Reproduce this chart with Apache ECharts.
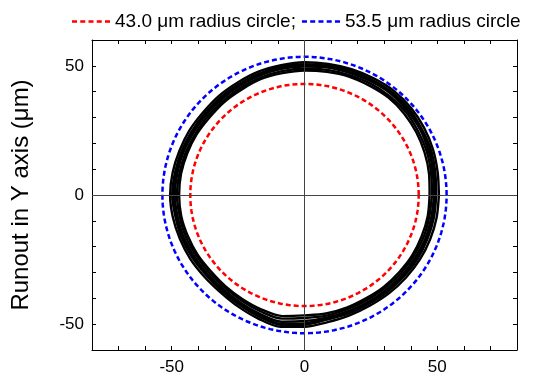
<!DOCTYPE html>
<html>
<head>
<meta charset="utf-8">
<script src="https://cdn.jsdelivr.net/npm/echarts@6/dist/echarts.min.js"></script>
<style>
html,body{margin:0;padding:0;background:#fff;}
#chart{width:552px;height:376px;}
</style>
</head>
<body>
<div id="chart"></div>
<script>
var angles = [0,10,20,30,40,50,60,70,80,90,100,110,120,130,140,150,160,170,
              180,190,200,210,220,230,240,250,260,270,280,290,300,310,320,330,340,350];

// measured radius (um) for each revolution
var rev1 = [50.6,50.9,51.5,52.0,52.4,52.5,52.1,51.8,51.5,51.4,51.0,50.8,50.3,50.1,49.8,50.0,50.1,50.4,
            50.6,50.3,49.9,49.6,49.2,49.2,49.9,50.9,51.8,51.0,50.0,49.6,49.4,49.6,49.8,50.1,50.3,50.5];
var rev2 = [49.6,50.0,50.7,51.0,51.6,51.7,51.3,51.2,50.7,50.6,50.3,50.0,49.5,49.3,49.0,49.1,49.3,49.5,
            49.8,49.3,49.1,48.7,48.3,48.5,49.1,50.1,51.0,50.2,49.0,48.8,48.6,48.8,48.9,49.2,49.3,49.5];
var rev3 = [48.8,49.4,49.7,50.4,50.6,50.9,50.6,50.2,50.1,49.7,49.6,49.2,48.8,48.4,48.3,48.2,48.5,48.6,
            48.8,48.5,48.3,47.8,47.6,47.5,48.2,49.0,49.8,48.8,48.2,47.8,47.8,47.8,48.1,48.2,48.5,48.5];
var rev4 = [48.0,48.4,49.0,49.4,49.9,49.9,49.8,49.4,49.2,48.9,48.7,48.4,48.0,47.6,47.5,47.4,47.7,47.8,
            48.0,47.7,47.5,47.0,46.8,46.7,47.3,48.0,48.6,47.6,47.4,47.0,47.0,47.0,47.3,47.4,47.7,47.7];
var rev5 = [47.1,47.6,48.1,48.6,49.0,49.2,48.9,48.8,48.4,48.2,47.9,47.8,47.2,47.0,46.7,46.9,47.0,47.2,
            47.2,47.1,46.7,46.4,46.0,46.2,46.6,47.2,47.6,46.6,46.6,46.4,46.2,46.4,46.5,46.8,46.9,47.1];
var rev6 = [49.2,49.0,50.2,50.5,51.0,51.2,51.2,50.5,50.6,50.2,49.9,49.5,49.2,48.8,48.9,48.6,48.9,49.1,
            49.3,48.9,48.8,48.2,48.0,47.9,48.6,49.6,50.6,49.7,48.6,48.3,48.2,48.2,48.6,48.6,49.0,48.9];

var innerRadius = 43.0;
var outerRadius = 53.5;
var tickLabels = [-50, 0, 50];

var chart = echarts.init(document.getElementById("chart"));

function toXY(radii){
    var pts = [];
    for (var i = 0; i < angles.length; i++) {
        var a = angles[i] * Math.PI / 180;
        pts.push([radii[i] * Math.cos(a), radii[i] * Math.sin(a)]);
    }
    pts.push(pts[0]);
    return pts;
}

function circle(r){
    var pts = [];
    for (var d = 0; d <= 360; d += 2) {
        var a = d * Math.PI / 180;
        pts.push([r * Math.cos(a), r * Math.sin(a)]);
    }
    return pts;
}

var font = "Liberation Sans";
function fmt(v){ return tickLabels.indexOf(v) >= 0 ? String(v) : ""; }

// dashed sample for the legend
var dashIcon = 'path://M0,0h5v2.5h-5z M8.25,0h5v2.5h-5z M16.5,0h5v2.5h-5z M24.75,0h5v2.5h-5z M33,0h5v2.5h-5z';

var revSeries = [rev1, rev2, rev3, rev4, rev5, rev6].map(function(r, i){
    return {
        type: 'line', name: 'rev' + (i + 1), data: toXY(r),
        showSymbol: false, symbol: 'none', smooth: 0.3, smoothMonotone: 'none',
        lineStyle: {color: '#000', width: 2.4}, silent: true, z: 2
    };
});

var innerName = innerRadius.toFixed(1) + ' μm radius circle;';
var outerName = outerRadius.toFixed(1) + ' μm radius circle';

var option = {
    animation: false,
    legend: {
        data: [
            {name: innerName, icon: dashIcon, itemStyle: {color: '#ff0000', borderWidth: 0}},
            {name: outerName, icon: dashIcon, itemStyle: {color: '#0000ff', borderWidth: 0}}
        ],
        left: 72, top: 12, itemWidth: 38, itemHeight: 3, itemGap: 6, padding: 0,
        textStyle: {fontFamily: font, fontSize: 19, color: '#000'}
    },
    grid: {left: 92, right: 35, top: 40, bottom: 24},
    xAxis: [{
        type: 'value', min: -80, max: 80, interval: 10,
        axisLine: {onZero: false, lineStyle: {color: '#000', width: 1}},
        axisTick: {inside: true, length: 4, lineStyle: {color: '#000'}},
        axisLabel: {formatter: fmt, fontFamily: font, fontSize: 17, color: '#000', margin: 9},
        splitLine: {show: false}
    }, {
        type: 'value', position: 'top', min: -80, max: 80, interval: 10,
        axisLine: {onZero: false, lineStyle: {color: '#000', width: 1}},
        axisTick: {inside: true, length: 4, lineStyle: {color: '#000'}},
        axisLabel: {show: false}, splitLine: {show: false}
    }],
    yAxis: [{
        type: 'value', min: -60, max: 60, interval: 10,
        name: 'Runout in Y axis (μm)', nameLocation: 'middle', nameGap: 59,
        nameTextStyle: {fontFamily: font, fontSize: 24, color: '#000'},
        axisLine: {show: true, onZero: false, lineStyle: {color: '#000', width: 1}},
        axisTick: {show: true, inside: true, length: 4, lineStyle: {color: '#000'}},
        axisLabel: {formatter: fmt, fontFamily: font, fontSize: 17, color: '#000', margin: 8},
        splitLine: {show: false}
    }, {
        type: 'value', position: 'right', min: -60, max: 60, interval: 10,
        axisLine: {show: true, onZero: false, lineStyle: {color: '#000', width: 1}},
        axisTick: {show: true, inside: true, length: 4, lineStyle: {color: '#000'}},
        axisLabel: {show: false}, splitLine: {show: false}
    }],
    series: revSeries.concat([{
        type: 'line', data: [], silent: true,
        markLine: {
            silent: true, symbol: 'none', label: {show: false},
            lineStyle: {color: '#444', width: 1, type: 'solid'},
            data: [{xAxis: 0}, {yAxis: 0}]
        }
    }, {
        type: 'line', name: innerName, data: circle(innerRadius),
        showSymbol: false, symbol: 'none', silent: true, z: 3,
        itemStyle: {color: '#ff0000'},
        lineStyle: {color: '#ff0000', width: 2.5, type: [5, 3]}
    }, {
        type: 'line', name: outerName, data: circle(outerRadius),
        showSymbol: false, symbol: 'none', silent: true, z: 3,
        itemStyle: {color: '#0000ff'},
        lineStyle: {color: '#0000ff', width: 2.5, type: [5, 3]}
    }])
};

chart.setOption(option);
</script>
</body>
</html>
